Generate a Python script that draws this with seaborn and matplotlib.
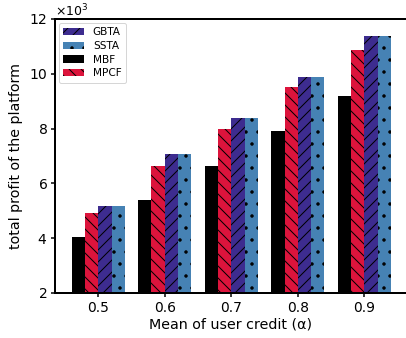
import matplotlib
matplotlib.use("Agg")
import matplotlib.pyplot as plt
from matplotlib.patches import Patch
import pandas as pd
import seaborn as sns

# Mean user credit levels (x axis)
alphas = ["0.5", "0.6", "0.7", "0.8", "0.9"]

# Total platform profit for each mechanism
mbf = [4050, 5390, 6650, 7920, 9190]
mpcf = [4910, 6650, 8000, 9510, 10880]
gbta = [5190, 7060, 8390, 9880, 11380]
ssta = [5190, 7060, 8390, 9880, 11380]

methods = ["MBF", "MPCF", "GBTA", "SSTA"]
colors = {"MBF": "#000000", "MPCF": "#dc143c", "GBTA": "#3d2c8f", "SSTA": "#4682b4"}
hatches = {"MBF": "", "MPCF": "\\\\", "GBTA": "//", "SSTA": "."}

series = {"MBF": mbf, "MPCF": mpcf, "GBTA": gbta, "SSTA": ssta}
rows = []
for m in methods:
    for a, v in zip(alphas, series[m]):
        rows.append({"alpha": a, "method": m, "profit": v})
df = pd.DataFrame(rows)

sns.set_theme(style="ticks")
plt.rcParams["font.family"] = ["DejaVu Sans"]
plt.rcParams["hatch.linewidth"] = 1.0
for key in ("text.color", "axes.labelcolor", "xtick.color", "ytick.color"):
    plt.rcParams[key] = "black"

dpi = 72
fig = plt.figure(figsize=(406 / dpi, 338 / dpi), dpi=dpi)
ax = fig.add_axes([55 / 406, 1 - 293 / 338, (407 - 55) / 406, (293 - 19) / 338])

sns.barplot(data=df, x="alpha", y="profit", hue="method", order=alphas,
            hue_order=methods, palette=colors, width=0.8, ax=ax,
            legend=False, errorbar=None, saturation=1)

# apply hatching per mechanism
for container, m in zip(ax.containers, methods):
    for bar in container:
        bar.set_edgecolor("black")
        bar.set_linewidth(0)
        bar.set_hatch(hatches[m])

ax.set_xlim(-0.65, 4.64)
ax.set_ylim(2000, 12000)
ax.set_yticks([2000, 4000, 6000, 8000, 10000, 12000])
ax.ticklabel_format(style="sci", axis="y", scilimits=(3, 3), useMathText=True)
ax.yaxis.get_offset_text().set_fontsize(12.5)

ax.set_xlabel("Mean of user credit (α)", fontsize=14.2, labelpad=3)
ax.set_ylabel("total profit of the platform", fontsize=14.2, labelpad=6)
ax.tick_params(axis="both", labelsize=13.9, width=1.5, length=4, direction="out")

for s in ax.spines.values():
    s.set_linewidth(2)
    s.set_color("black")
ax.spines["right"].set_visible(False)

handles = []
for m in ["GBTA", "SSTA", "MBF", "MPCF"]:
    handles.append(Patch(facecolor=colors[m], edgecolor="black", linewidth=0,
                         hatch=hatches[m], label=m))
ax.legend(handles=handles, loc="upper left", fontsize=10.5, frameon=True,
          borderaxespad=0.4, labelspacing=0.35, handletextpad=0.8)

fig.savefig("out.png", dpi=dpi)
